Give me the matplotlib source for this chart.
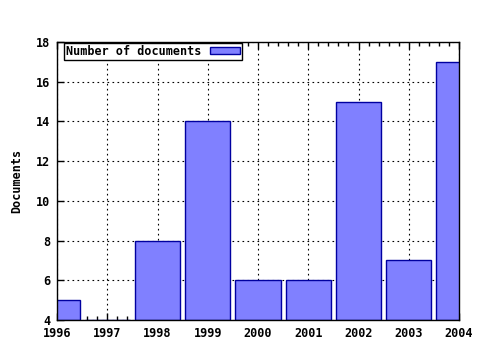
import matplotlib
matplotlib.use("Agg")
import matplotlib.pyplot as plt
from matplotlib.ticker import MultipleLocator

years = [1996, 1997, 1998, 1999, 2000, 2001, 2002, 2003, 2004]
documents = [5, 4, 8, 14, 6, 6, 15, 7, 17]
series_label = "Number of documents"
y_label = "Documents"

plt.rcParams['font.family'] = ['DejaVu Sans Mono']
plt.rcParams['font.weight'] = 'bold'

fig = plt.figure(figsize=(4.8, 3.5), dpi=100)
ax = fig.add_axes([57/480, 1-320/350, (459-57)/480, (320-42)/350])

base = 4
ax.bar(years, [d - base for d in documents], bottom=base, width=0.9,
       color='#8080ff', edgecolor='#0000a0', linewidth=1, label=series_label, zorder=2)

ax.set_xlim(1996, 2004)
ax.set_ylim(4, 18)
ax.set_xticks(years)
ax.set_xticklabels([str(y) for y in years])
ax.set_yticks(range(4, 19, 2))
ax.xaxis.set_minor_locator(MultipleLocator(0.2))
ax.grid(True, which='major', color='black', linestyle=(0, (1.5, 3)), linewidth=0.8, zorder=0)
ax.set_axisbelow(True)
ax.tick_params(which='both', direction='in', top=True, right=False, labelsize=8.5, width=1)
ax.tick_params(which='major', length=5, pad=5)
ax.tick_params(which='minor', length=3)
for s in ax.spines.values():
    s.set_linewidth(1)
    s.set_zorder(3)
ax.set_ylabel(y_label, fontsize=8.5, fontweight='bold', labelpad=9)

leg = ax.legend(loc='upper left', bbox_to_anchor=(6/402, 1.0), markerfirst=False,
                fancybox=False, edgecolor='black',
                framealpha=1, fontsize=8.5, borderaxespad=0.1, borderpad=0.15,
                handlelength=2.6, handleheight=0.55, handletextpad=0.7)
leg.get_frame().set_linewidth(1)

fig.savefig("out.png", dpi=100)
